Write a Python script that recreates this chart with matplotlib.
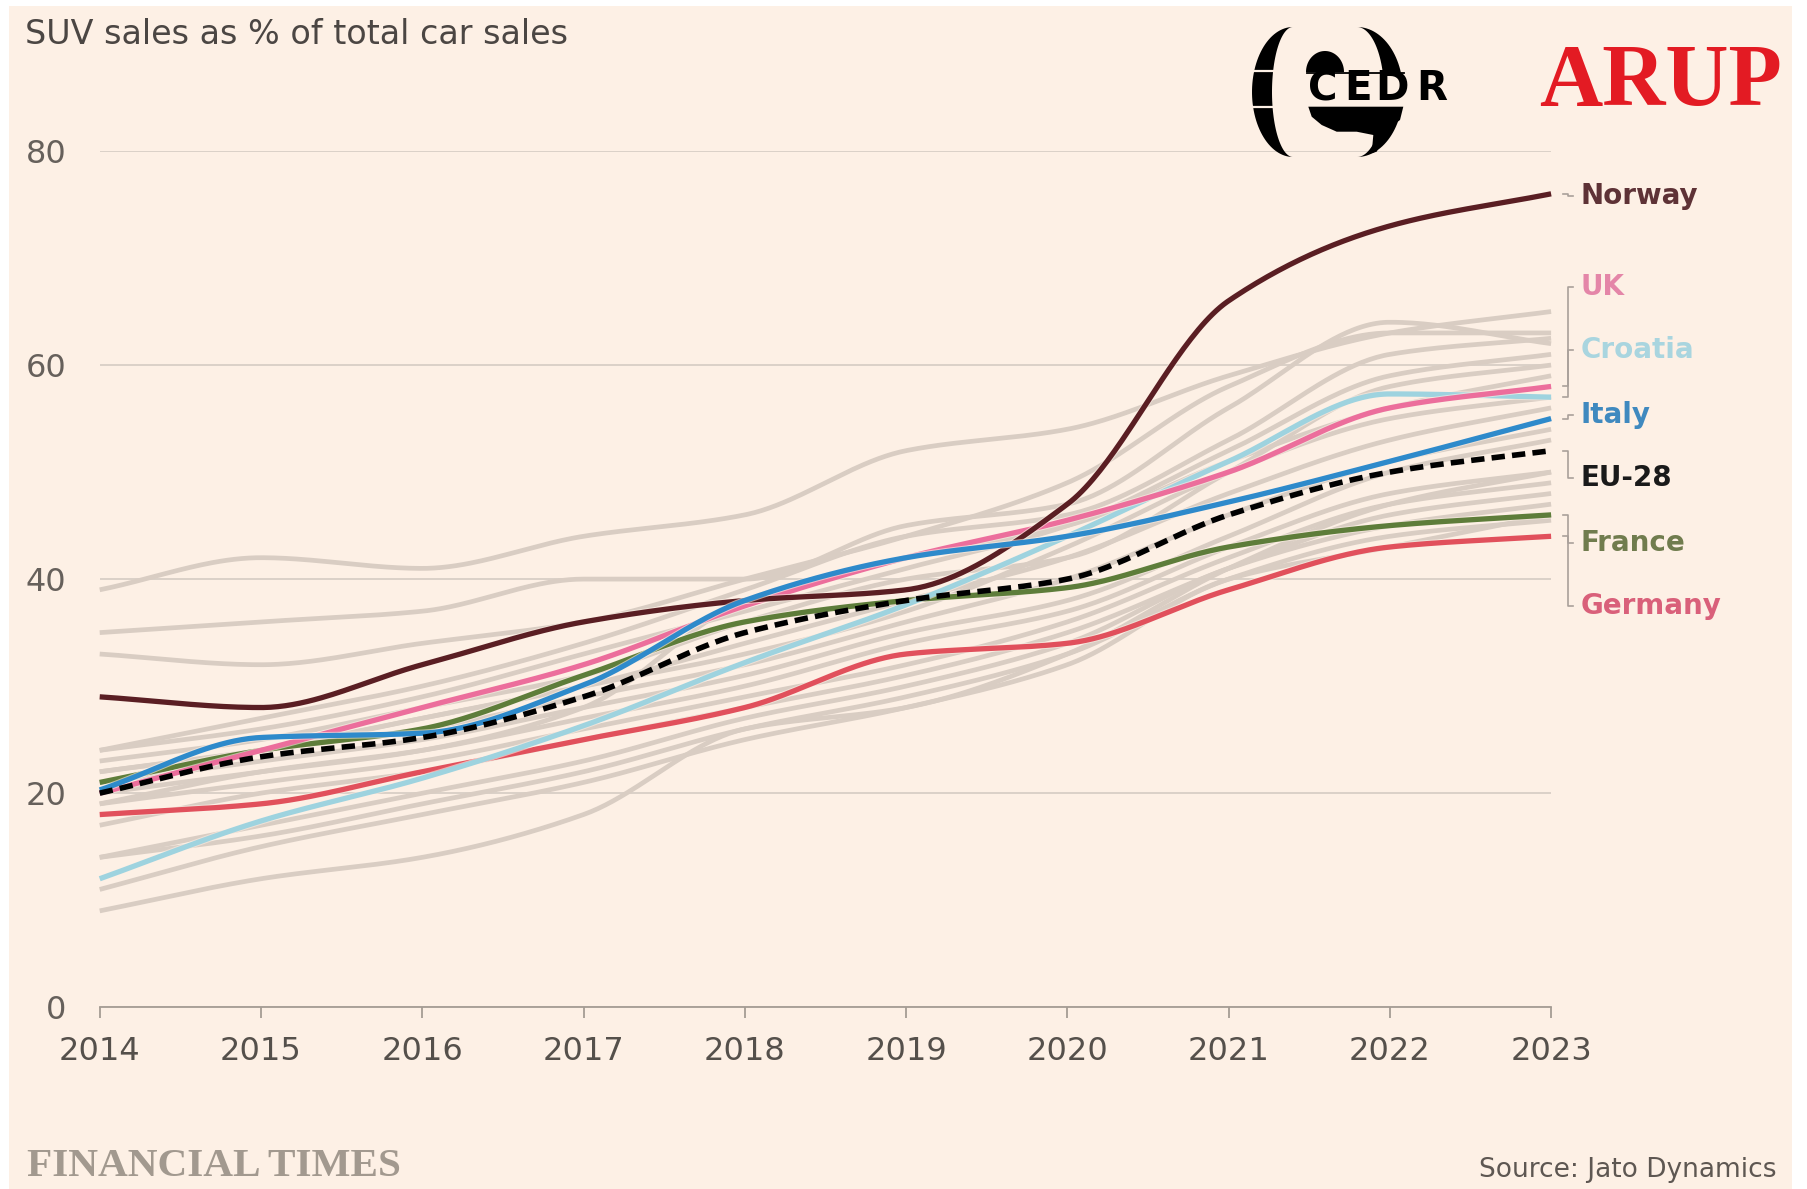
import numpy as np
import matplotlib
matplotlib.use("Agg")
import matplotlib.pyplot as plt
from matplotlib.patches import Rectangle, Polygon
from matplotlib import font_manager
import matplotlib.patheffects as pe

# ---------------- data ----------------
years = [2014, 2015, 2016, 2017, 2018, 2019, 2020, 2021, 2022, 2023]

norway  = [29, 28, 32, 36, 38, 39, 47, 66, 73, 76]
uk      = [20, 24, 28, 32, 37.5, 42, 45.5, 50, 56, 58]
croatia = [12, 17.4, 21.4, 26.3, 32.2, 37.6, 44, 51, 57.3, 57]
italy   = [20.3, 25.2, 25.6, 30.1, 38, 42, 44, 47.2, 51, 55]
eu28    = [20, 23.4, 25.2, 29, 35, 38, 40, 46, 50, 52]
france  = [21, 24, 26, 31, 36, 38, 39.2, 43, 45, 46]
germany = [18, 19, 22, 25, 28, 33, 34, 39, 43, 44]

grey_series = [
    [39, 42, 41, 44, 46, 52, 54, 59, 63, 65],
    [35, 36, 37, 40, 40, 45, 47, 56, 64, 62],
    [33, 32, 34, 36, 40, 44, 49, 58, 63, 63],
    [24, 27, 30, 34, 39, 44, 46, 53, 61, 62.5],
    [24, 26, 29, 33, 37, 41, 45, 52, 59, 61],
    [23, 25, 28, 31, 36, 40, 42, 50, 58, 60],
    [22, 24, 27, 30, 34, 38, 42, 48, 53, 56],
    [22, 24, 26, 29, 32, 36, 40, 46, 51, 54],
    [21, 23, 25, 28, 31, 35, 38, 44, 50, 53],
    [19, 22, 24, 27, 30, 34, 37, 43, 48, 50],
    [19, 21, 23, 26, 29, 32, 36, 42, 47, 49],
    [17, 20, 22, 25, 28, 31, 35, 41, 46, 48],
    [14, 17, 20, 23, 27, 30, 34, 41, 45, 47],
    [14, 16, 19, 22, 26, 29, 33, 40, 44, 45.5],
    [11, 15, 18, 21, 25, 28, 32, 40, 43, 46],
    [9, 12, 14, 18, 26, 28, 33, 41, 47, 50],
    [21, 24, 27, 30, 33, 37, 43, 50, 55, 57],
    [20, 22, 24, 28, 38, 42, 45, 51, 56, 59],
]

labels = ["Norway", "UK", "Croatia", "Italy", "EU-28", "France", "Germany"]
label_y = [75.8, 67.3, 61.4, 55.3, 49.4, 43.4, 37.5]
yticks = [0, 20, 40, 60, 80]

title = "SUV sales as % of total car sales"
source = "Source: Jato Dynamics"

# ---------------- style ----------------
PEACH = "#FDF0E5"
GREY = "#D9CDC3"
colors = {
    "Norway": "#5A1E23", "UK": "#EC6E9C", "Croatia": "#9ED3DF",
    "Italy": "#2E8ACB", "EU-28": "#000000", "France": "#5E7D3A",
    "Germany": "#E1505C",
}
label_colors = {
    "Norway": "#5E3236", "UK": "#E486A8", "Croatia": "#A9D5DF",
    "Italy": "#3F89BF", "EU-28": "#1A1A1A", "France": "#707C4E",
    "Germany": "#D9607A",
}


def smooth(xs, ys, n=400):
    """Monotone cubic (Fritsch-Carlson) rendering of a series."""
    x = np.asarray(xs, float)
    y = np.asarray(ys, float)
    h = np.diff(x)
    d = np.diff(y) / h
    m = np.zeros_like(y)
    m[0], m[-1] = d[0], d[-1]
    for i in range(1, len(x) - 1):
        if d[i - 1] * d[i] <= 0:
            m[i] = 0.0
        else:
            w1 = 2 * h[i] + h[i - 1]
            w2 = h[i] + 2 * h[i - 1]
            m[i] = (w1 + w2) / (w1 / d[i - 1] + w2 / d[i])
    xx = np.linspace(x[0], x[-1], n)
    idx = np.clip(np.searchsorted(x, xx) - 1, 0, len(x) - 2)
    t = (xx - x[idx]) / h[idx]
    h00 = 2 * t**3 - 3 * t**2 + 1
    h10 = t**3 - 2 * t**2 + t
    h01 = -2 * t**3 + 3 * t**2
    h11 = t**3 - t**2
    yy = (h00 * y[idx] + h10 * h[idx] * m[idx]
          + h01 * y[idx + 1] + h11 * h[idx] * m[idx + 1])
    return xx, yy


W, H = 1807, 1189
fig = plt.figure(figsize=(W / 100, H / 100), dpi=100)
fig.patch.set_facecolor("white")

# background panel (pixel coordinates)
bg = fig.add_axes([0, 0, 1, 1])
bg.set_xlim(0, W)
bg.set_ylim(H, 0)
bg.axis("off")
bg.set_zorder(0)
bg.add_patch(Rectangle((9, 6), 1783, H - 6, fc=PEACH, ec="none"))

# main chart
ax = fig.add_axes([99.7 / W, 1 - 1007.2 / H, (1551.1 - 99.7) / W, (1007.2 - 151) / H])
ax.set_zorder(1)
ax.patch.set_alpha(0)
ax.set_xlim(2014, 2023)
ax.set_ylim(0, 80)
for s in ["top", "right", "left"]:
    ax.spines[s].set_visible(False)
ax.spines["bottom"].set_color("#A59C94")
ax.spines["bottom"].set_linewidth(1.3)
ax.set_yticks(yticks)
ax.set_yticklabels([str(v) for v in yticks])
ax.set_xticks(years)
ax.set_xticklabels([str(y) for y in years])
ax.yaxis.grid(True, color="#D8CEC5", linewidth=1.3)
ax.set_axisbelow(True)
ax.tick_params(axis="y", length=0, pad=24, labelsize=23, labelcolor="#66605B")
ax.tick_params(axis="x", length=8, width=1.3, color="#A59C94", pad=13,
               labelsize=23, labelcolor="#55504B")

halo = [pe.Stroke(linewidth=5.2, foreground=PEACH, alpha=0.6), pe.Normal()]

for g in grey_series:
    xx, yy = smooth(years, g)
    ax.plot(xx, yy, color=GREY, lw=3.4, solid_capstyle="butt", zorder=2, clip_on=False)

series = {
    "Germany": germany, "France": france, "Croatia": croatia, "UK": uk,
    "Norway": norway, "Italy": italy,
}
z = 3
for name, vals in series.items():
    xx, yy = smooth(years, vals)
    ax.plot(xx, yy, color=colors[name], lw=3.8, solid_capstyle="butt",
            zorder=z, clip_on=False, path_effects=halo)
    z += 1

xx, yy = smooth(years, eu28)
ax.plot(xx, yy, color="black", lw=4.0, dashes=(2.4, 1.3), dash_capstyle="butt",
        zorder=z + 1, clip_on=False)

# labels with connectors
ends = {"Norway": norway[-1], "UK": uk[-1], "Croatia": croatia[-1], "Italy": italy[-1],
        "EU-28": eu28[-1], "France": france[-1], "Germany": germany[-1]}
xa, xb, xc, xt = 2023.075, 2023.105, 2023.136, 2023.185
for name, ly in zip(labels, label_y):
    ey = ends[name]
    ax.plot([xa, xb, xb, xc], [ey, ey, ly, ly], color="#A9A09A", lw=1.2,
            clip_on=False, zorder=2)
    ax.text(xt, ly, name, color=label_colors[name], fontsize=20, fontweight="bold",
            va="center", ha="left", clip_on=False)

# overlay for texts and logos (pixel coordinates)
ov = fig.add_axes([0, 0, 1, 1])
ov.set_xlim(0, W)
ov.set_ylim(H, 0)
ov.axis("off")
ov.set_zorder(3)
ov.patch.set_alpha(0)

ov.text(25, 35, title, fontsize=24, color="#4B4643", va="center", ha="left")
ov.text(27, 1166, "FINANCIAL TIMES", fontsize=29.7, fontweight="bold",
        family="Liberation Serif", color="#A2998F", va="center", ha="left")
ov.text(1777, 1170, source, fontsize=19, color="#5E5752", va="center", ha="right")

# ARUP logo
ov.text(1782, 84, "ARUP", fontsize=63, fontweight="bold", family="Liberation Serif",
        color="#E31B23", va="center", ha="right")


# CEDR logo
def crescent(cx, cy, a_out, a_in, b, side):
    t = np.linspace(-np.pi / 2, np.pi / 2, 60)
    sx = -1 if side == "left" else 1
    outer = np.column_stack([cx + sx * a_out * np.cos(t), cy + b * np.sin(t)])
    inner = np.column_stack([cx + sx * a_in * np.cos(t[::-1]), cy + b * np.sin(t[::-1])])
    return np.vstack([outer, inner])


ov.add_patch(Polygon(crescent(1293, 92, 41, 21, 65, "left"), closed=True, fc="black", ec="none"))
ov.add_patch(Polygon(crescent(1357, 92, 46, 27, 65, "right"), closed=True, fc="black", ec="none"))
# cut for the text band
ov.add_patch(Rectangle((1368, 72), 45, 35, fc=PEACH, ec="none"))
ov.plot([1248, 1275], [71, 71], color=PEACH, lw=1.6)
ov.plot([1248, 1275], [106.5, 106.5], color=PEACH, lw=1.6)
# dome
th = np.linspace(0, np.pi, 40)
dome = np.column_stack([1325 + 19 * np.cos(th), 72 - 21 * np.sin(th)])
ov.add_patch(Polygon(dome, closed=True, fc="black", ec="none"))
ov.plot([1307, 1404], [72.5, 72.5], color="black", lw=1.3)
# bowl with tail
bowl = [(1308.3, 106.7), (1403.3, 106.7), (1400, 120), (1386.7, 130),
        (1376.7, 151.7), (1371.7, 153.3), (1373.3, 135), (1356.7, 131.7),
        (1336.7, 131.7), (1321.7, 125), (1311.7, 116.7)]
ov.add_patch(Polygon(bowl, closed=True, fc="black", ec="none"))

available = {f.name for f in font_manager.fontManager.ttflist}
if "Liberation Sans Narrow" in available:
    cedr_family, cedr_size = "Liberation Sans Narrow", 33
else:
    cedr_family, cedr_size = "DejaVu Sans", 29
for letter, lx in zip("CEDR", [1323, 1358, 1392, 1432]):
    ov.text(lx, 89.5, letter, fontsize=cedr_size, fontweight="bold", color="black",
            family=cedr_family, ha="center", va="center")

fig.savefig("out.png", dpi=100, facecolor=fig.get_facecolor())
